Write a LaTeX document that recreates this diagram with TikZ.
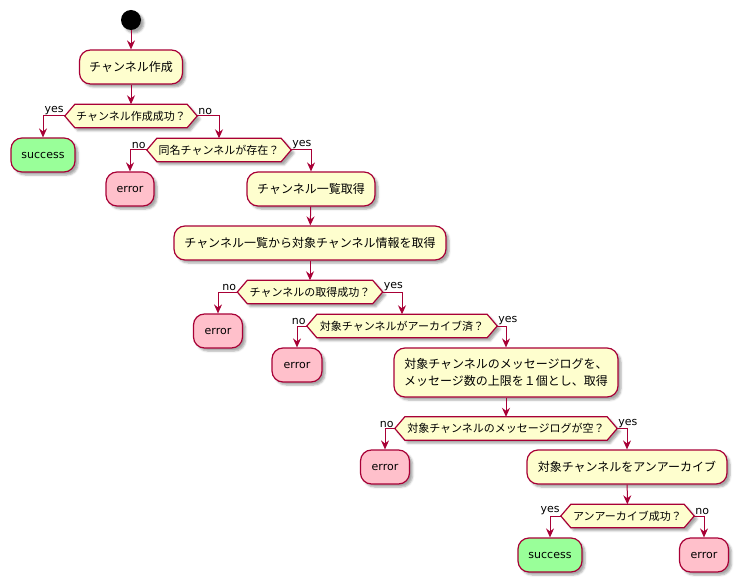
\documentclass[tikz,border=0pt]{standalone}
\usepackage{fontspec}
\setmainfont{DejaVu Sans}
\newfontfamily\jp{Noto Sans CJK JP}
\usetikzlibrary{arrows.meta,shadows.blur,backgrounds}
\definecolor{umlred}{HTML}{A80036}
\definecolor{actfill}{HTML}{FEFECE}
\definecolor{okfill}{HTML}{99FF99}
\definecolor{ngfill}{HTML}{FFC0CB}

\begin{document}
\begin{tikzpicture}[x=1pt,y=-1pt,
  softshadow/.style={blur shadow={shadow xshift=3pt,shadow yshift=-3pt,shadow blur radius=2pt,shadow opacity=35}},
  act/.style={draw=umlred,line width=1.2pt,fill=actfill,rounded corners=11pt,
    minimum height=34pt,inner sep=0pt,align=center,
    font=\jp\fontsize{12}{17}\selectfont,softshadow},
  ok/.style={act,fill=okfill,font=\fontsize{11}{13}\selectfont},
  ng/.style={act,fill=ngfill,font=\fontsize{11}{13}\selectfont},
  cond/.style={minimum height=23pt,inner sep=0pt,font=\jp\fontsize{11}{13}\selectfont},
  hexa/.style={draw=umlred,line width=1.2pt,fill=actfill,softshadow},
  flow/.style={draw=umlred,line width=1pt,-{Stealth[length=9pt,width=8pt,inset=3pt]}},
  lbl/.style={font=\fontsize{11}{13}\selectfont,inner sep=1pt}
]
\useasboundingbox (0,0) rectangle (744,588);

% start
\node[circle,fill=black,minimum size=20pt,inner sep=0pt,softshadow] (st) at (131,20) {};

% activities and decisions
\node[act,minimum width=103pt] (a1) at (131,67) {チャンネル作成};
\node[cond,minimum width=132pt] (d1) at (131,116) {チャンネル作成成功？};
\node[ok,minimum width=64pt] (s1) at (43,155) {success};
\node[cond,minimum width=144pt] (d2) at (219,150) {同名チャンネルが存在？};
\node[ng,minimum width=48pt] (e1) at (130,189) {error};
\node[act,minimum width=128pt] (a2) at (311,189) {チャンネル一覧取得};
\node[act,minimum width=272pt] (a3) at (310,243) {チャンネル一覧から対象チャンネル情報を取得};
\node[cond,minimum width=145pt] (d3) at (310,292) {チャンネルの取得成功？};
\node[ng,minimum width=49pt] (e2) at (218,331) {error};
\node[cond,minimum width=190pt] (d4) at (402,326) {対象チャンネルがアーカイブ済？};
\node[ng,minimum width=50pt] (e3) at (297,365) {error};
\node[act,minimum width=224pt,minimum height=49pt] (a4) at (506,372.5)
  {対象チャンネルのメッセージログを、\\メッセージ数の上限を１個とし、取得};
\node[cond,minimum width=222pt] (d5) at (506,428.5) {対象チャンネルのメッセージログが空？};
\node[ng,minimum width=49pt] (e4) at (385,467) {error};
\node[act,minimum width=200pt] (a5) at (627,467) {対象チャンネルをアンアーカイブ};
\node[cond,minimum width=133pt] (d6) at (627.5,516) {アンアーカイブ成功？};
\node[ok,minimum width=64pt] (s2) at (550,555) {success};
\node[ng,minimum width=49pt] (e5) at (704,555) {error};

% hexagonal outlines behind the decision texts
\begin{scope}[on background layer]
\foreach \n in {d1,d2,d3,d4,d5,d6}
  \path[hexa] (\n.west) -- ([xshift=10pt]\n.north west) -- ([xshift=-10pt]\n.north east)
    -- (\n.east) -- ([xshift=-10pt]\n.south east) -- ([xshift=10pt]\n.south west) -- cycle;
\end{scope}

% flow
\draw[flow] (st) -- (a1);
\draw[flow] (a1) -- (d1);
\draw[flow] (d1.west) -| (s1.north);
\draw[flow] (d1.east) -| (d2.north);
\draw[flow] (d2.west) -| (e1.north);
\draw[flow] (d2.east) -| (a2.north);
\draw[flow] (a2) -- (a3);
\draw[flow] (a3) -- (d3);
\draw[flow] (d3.west) -| (e2.north);
\draw[flow] (d3.east) -| (d4.north);
\draw[flow] (d4.west) -| (e3.north);
\draw[flow] (d4.east) -| (a4.north);
\draw[flow] (a4) -- (d5);
\draw[flow] (d5.west) -| (e4.north);
\draw[flow] (d5.east) -| (a5.north);
\draw[flow] (a5) -- (d6);
\draw[flow] (d6.west) -| (s2.north);
\draw[flow] (d6.east) -| (e5.north);

% branch labels
\node[lbl,anchor=south east] (l1) at (d1.west) {yes};
\node[lbl,anchor=south west] (l2) at (d1.east) {no};
\node[lbl,anchor=south east] (l3) at (d2.west) {no};
\node[lbl,anchor=south west] (l4) at (d2.east) {yes};
\node[lbl,anchor=south east] (l5) at (d3.west) {no};
\node[lbl,anchor=south west] (l6) at (d3.east) {yes};
\node[lbl,anchor=south east] (l7) at (d4.west) {no};
\node[lbl,anchor=south west] (l8) at (d4.east) {yes};
\node[lbl,anchor=south east] (l9) at (d5.west) {no};
\node[lbl,anchor=south west] (l10) at (d5.east) {yes};
\node[lbl,anchor=south east] (l11) at (d6.west) {yes};
\node[lbl,anchor=south west] (l12) at (d6.east) {no};
\end{tikzpicture}
\end{document}
